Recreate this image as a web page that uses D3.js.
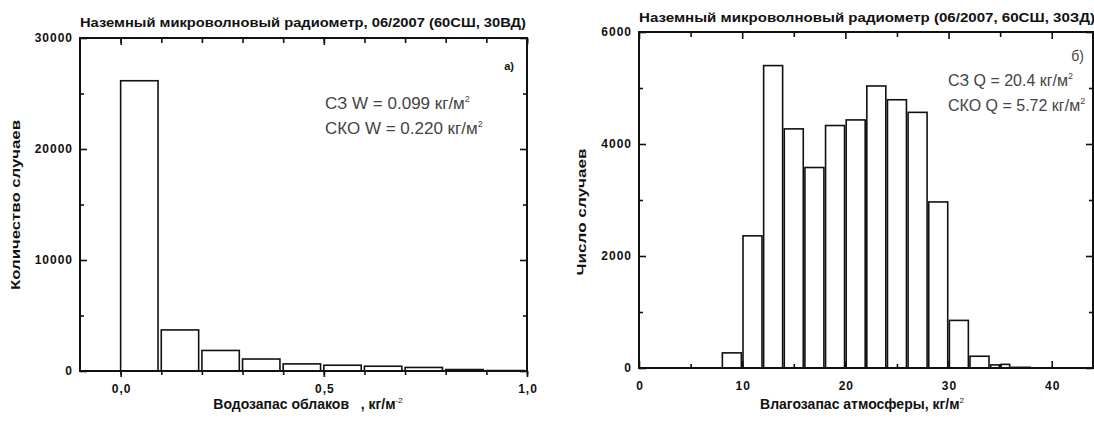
<!DOCTYPE html>
<html>
<head>
<meta charset="utf-8">
<script src="https://cdn.jsdelivr.net/npm/d3@7"></script>
<style>
  body { margin: 0; background: #fff; }
  svg { display: block; font-family: Arial, "Liberation Sans", sans-serif; }
  .tl { font-size: 12px; font-weight: bold; letter-spacing: 1px; fill: #111; }
  .ttl { font-size: 12px; font-weight: bold; fill: #111; }
  .note { font-size: 16px; fill: #444; }
</style>
</head>
<body>
<div id="chart"></div>
<script>
// left histogram: cloud liquid water, kg/m2
var leftBinStart = [0.0, 0.1, 0.2, 0.3, 0.4, 0.5, 0.6, 0.7, 0.8, 0.9];
var leftCounts = [26150, 3700, 1850, 1080, 640, 520, 430, 320, 130, 40];
var leftYTicks = [0, 10000, 20000, 30000];
var leftXTicks = [0, 0.5, 1.0];

// right histogram: precipitable water, kg/m2
var rightBinStart = [8, 10, 12, 14, 16, 18, 20, 22, 24, 26, 28, 30, 32, 34, 35, 36];
var rightBinEnd   = [10, 12, 14, 16, 18, 20, 22, 24, 26, 28, 30, 32, 34, 35, 36, 38];
var rightCounts = [270, 2360, 5400, 4270, 3580, 4330, 4430, 5036, 4790, 4565, 2965, 850, 210, 55, 65, 12];
var rightYTicks = [0, 2000, 4000, 6000];
var rightXTicks = [0, 10, 20, 30, 40];

var svg = d3.select("#chart").append("svg")
  .attr("width", 1094)
  .attr("height", 426);

function fmtComma(d){ return d3.format(".1f")(d).replace(".", ","); }

function drawPanel(o){
  var x = d3.scaleLinear().domain(o.xDomain).range([o.left, o.right]);
  var y = d3.scaleLinear().domain(o.yDomain).range([o.bottom, o.top]);
  var g = svg.append("g");

  // bars
  g.append("g").selectAll("rect").data(o.bars).enter().append("rect")
    .attr("x", function(d){ return x(d[0]); })
    .attr("y", function(d){ return y(d[2]); })
    .attr("width", function(d){ return x(d[1]) - x(d[0]); })
    .attr("height", function(d){ return y(0) - y(d[2]); })
    .style("fill", "#fff")
    .style("stroke", "#111")
    .style("stroke-width", 1.6);

  // axes: major + minor
  var bAx = g.append("g").attr("transform", "translate(0," + o.bottom + ")");
  bAx.call(d3.axisBottom(x).tickValues(o.xMinor).tickSize(o.bottomOut ? 4 : -4).tickFormat(""));
  bAx.append("g").call(d3.axisBottom(x).tickValues(o.xTicks).tickSize(o.bottomOut ? 6 : -7).tickFormat(""));
  var tAx = g.append("g").attr("transform", "translate(0," + o.top + ")");
  tAx.call(d3.axisTop(x).tickValues(o.xMinor).tickSize(-5).tickFormat(""));
  tAx.append("g").call(d3.axisTop(x).tickValues(o.xTicks).tickSize(-7).tickFormat(""));
  var lAx = g.append("g").attr("transform", "translate(" + o.left + ",0)");
  lAx.call(d3.axisLeft(y).tickValues(o.yMinor).tickSize(-4).tickFormat(""));
  lAx.append("g").call(d3.axisLeft(y).tickValues(o.yTicks).tickSize(-7).tickFormat(""));
  var rAx = g.append("g").attr("transform", "translate(" + o.right + ",0)");
  rAx.call(d3.axisRight(y).tickValues(o.yMinor).tickSize(-4).tickFormat(""));
  rAx.append("g").call(d3.axisRight(y).tickValues(o.yTicks).tickSize(-7).tickFormat(""));
  g.selectAll(".domain").remove();
  g.selectAll(".tick line").style("stroke", "#111").style("stroke-width", 1.6);

  // frame
  g.append("rect")
    .attr("x", o.left).attr("y", o.top)
    .attr("width", o.right - o.left).attr("height", o.bottom - o.top)
    .style("fill", "none").style("stroke", "#111").style("stroke-width", 2);

  // tick labels
  g.selectAll(".ylab").data(o.yTicks).enter().append("text")
    .attr("class", "tl")
    .attr("x", o.left - 7)
    .attr("y", function(d){ return y(d) + 4; })
    .attr("text-anchor", "end")
    .text(function(d){ return d; });
  g.selectAll(".xlab").data(o.xTicks).enter().append("text")
    .attr("class", "tl")
    .attr("x", function(d){ return x(d) + 1; })
    .attr("y", o.bottom + 22)
    .attr("text-anchor", "middle")
    .text(o.xFmt);

  // title
  g.append("text").attr("class", "ttl")
    .attr("x", o.left).attr("y", o.titleY)
    .attr("textLength", o.titleLen).attr("lengthAdjust", "spacingAndGlyphs")
    .text(o.title);

  // y label
  g.append("text").attr("class", "ttl")
    .attr("transform", "translate(" + o.yLabX + "," + o.yLabY + ") rotate(-90)")
    .attr("text-anchor", "middle")
    .style("font-size", "13px")
    .attr("textLength", o.yLabLen).attr("lengthAdjust", "spacingAndGlyphs")
    .text(o.yLabel);

  // x label
  var xl = g.append("text").attr("class", "ttl")
    .attr("x", o.xLabX).attr("y", 409)
    .attr("text-anchor", "middle")
    .style("font-size", "14px")
    .style("white-space", "pre")
    .attr("xml:space", "preserve");
  xl.append("tspan").text(o.xLabel);
  xl.append("tspan").attr("dy", -6).style("font-size", "8px").style("font-weight", "normal").text(o.xSup);

  // notes
  o.notes.forEach(function(n, i){
    var t = g.append("text").attr("class", "note")
      .attr("x", o.noteX).attr("y", o.noteY + i * 25)
      .style("font-size", o.noteSize + "px");
    t.append("tspan").text(n);
    t.append("tspan").attr("dy", -7).style("font-size", "9px").text("2");
  });
  g.append("text")
    .attr("x", o.tagX).attr("y", o.tagY)
    .attr("text-anchor", "end")
    .style("font-size", o.tagBold ? "11px" : "14px")
    .style("font-weight", o.tagBold ? "bold" : "normal")
    .style("fill", o.tagBold ? "#111" : "#444")
    .text(o.tag);
}

drawPanel({
  left: 80, right: 527, top: 38, bottom: 371,
  xDomain: [-0.1, 1.0], yDomain: [0, 30000],
  bars: leftBinStart.map(function(s, i){ return [s, s + 0.092, leftCounts[i]]; }),
  xTicks: leftXTicks, xMinor: d3.range(0, 11).map(function(i){ return i / 10; }),
  yTicks: leftYTicks, yMinor: [5000, 15000, 25000],
  bottomOut: true, xFmt: fmtComma,
  title: "Наземный микроволновый радиометр, 06/2007 (60СШ, 30ВД)", titleY: 27, titleLen: 446,
  yLabel: "Количество случаев", yLabX: 20, yLabY: 205, yLabLen: 170,
  xLabel: "Водозапас облаков   , кг/м", xSup: "-2", xLabX: 308,
  notes: ["СЗ W = 0.099 кг/м", "СКО W = 0.220 кг/м"], noteX: 325, noteY: 109, noteSize: 17,
  tag: "а)", tagX: 514, tagY: 70, tagBold: true
});

drawPanel({
  left: 639, right: 1093, top: 32, bottom: 368,
  xDomain: [0, 44], yDomain: [0, 6000],
  bars: rightBinStart.map(function(s, i){ return [s + 0.08, rightBinEnd[i] - 0.08, rightCounts[i]]; }),
  xTicks: rightXTicks, xMinor: [5, 15, 25, 35],
  yTicks: rightYTicks, yMinor: [1000, 3000, 5000],
  bottomOut: false, xFmt: function(d){ return d; },
  title: "Наземный микроволновый радиометр (06/2007, 60СШ, 30ЗД)", titleY: 22, titleLen: 456,
  yLabel: "Число случаев", yLabX: 586, yLabY: 212, yLabLen: 127,
  xLabel: "Влагозапас атмосферы, кг/м", xSup: "2", xLabX: 862,
  notes: ["СЗ Q = 20.4 кг/м", "СКО Q = 5.72 кг/м"], noteX: 948, noteY: 86, noteSize: 16,
  tag: "б)", tagX: 1084, tagY: 61, tagBold: false
});
</script>
</body>
</html>
